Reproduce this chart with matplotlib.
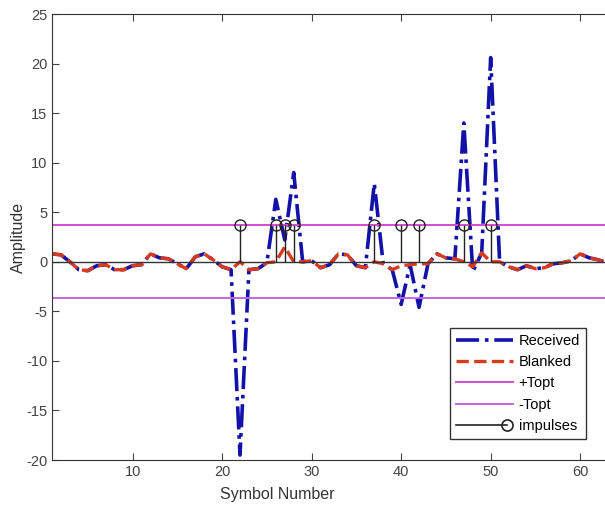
import numpy as np
import matplotlib
matplotlib.use('Agg')
import matplotlib.pyplot as plt
from matplotlib.lines import Line2D
from matplotlib.legend_handler import HandlerBase

plt.rcParams['font.family'] = ['Liberation Sans', 'DejaVu Sans']
plt.rcParams['axes.unicode_minus'] = False

# symbol index 1..63
symbols = list(range(1, 64))
received = [0.8, 0.7, 0.0, -0.8, -0.9, -0.4, -0.3, -0.8, -0.8, -0.4,
            -0.3, 0.8, 0.4, 0.3, -0.2, -0.7, 0.5, 0.8, 0.2, -0.5,
            -0.8, -19.5, -0.8, -0.7, -0.1, 6.3, 2.2, 9.0, 0.0, 0.1,
            -0.6, -0.3, 0.8, 0.7, -0.4, -0.6, 7.9, -0.2, -0.8, -4.3,
            -0.3, -4.6, -0.2, 0.8, 0.4, 0.3, 14.0, -1.0, 0.9, 20.6,
            0.0, -0.5, -0.8, -0.4, -0.7, -0.6, -0.2, -0.1, 0.1, 0.8,
            0.4, 0.2, -0.1]
blanked = [0.8, 0.7, 0.0, -0.8, -0.9, -0.4, -0.3, -0.8, -0.8, -0.4,
           -0.3, 0.8, 0.4, 0.3, -0.2, -0.7, 0.5, 0.8, 0.2, -0.5,
           -0.8, 0.0, -0.8, -0.7, -0.1, 0.0, 1.5, 0.0, 0.0, 0.1,
           -0.6, -0.3, 0.8, 0.7, -0.4, -0.6, 0.0, -0.2, -0.8, -0.4,
           -0.3, -0.2, -0.2, 0.8, 0.4, 0.3, 0.0, -0.5, 0.9, 0.0,
           0.0, -0.5, -0.8, -0.4, -0.7, -0.6, -0.2, -0.1, 0.1, 0.8,
           0.4, 0.2, -0.1]
topt = 3.7
impulse_pos = [22, 26, 27, 28, 37, 40, 42, 47, 50]
impulse_val = [topt] * len(impulse_pos)


class StemHandler(HandlerBase):
    # line with an open circle at the right end, like matlab's stem legend
    def create_artists(self, legend, orig_handle, xdescent, ydescent,
                       width, height, fontsize, trans):
        y = height / 2 - ydescent
        x1 = width - xdescent
        line = Line2D([-xdescent, x1 - 4], [y, y], color='#222222', lw=1.2)
        mark = Line2D([x1 - 4], [y], marker='o', markersize=8,
                      markerfacecolor='none', markeredgecolor='#222222',
                      markeredgewidth=1.2, linestyle='none')
        line.set_transform(trans)
        mark.set_transform(trans)
        return [line, mark]


fig = plt.figure(figsize=(6.05, 5.16), dpi=100)
ax = fig.add_axes([52 / 605, 56 / 516, 564 / 605, 446 / 516])

h1, = ax.plot(symbols, received, '-.', color='#1212a8', lw=2.6, label='Received')
h2, = ax.plot(symbols, blanked, '--', color='#d93a1c', lw=2.4, label='Blanked')
h3 = ax.axhline(topt, color='#d04ed0', lw=1.4, label='+Topt')
h4 = ax.axhline(-topt, color='#c266e6', lw=1.4, label='-Topt')
ax.axhline(0, color='#333333', lw=1.0)
ml, sl, bl = ax.stem(impulse_pos, impulse_val, linefmt='-', markerfmt='o',
                     basefmt=' ')
plt.setp(sl, color='#222222', lw=1.0)
plt.setp(ml, markerfacecolor='none', markeredgecolor='#222222',
         markersize=8, markeredgewidth=1.0)

h5 = Line2D([0], [0], color='#222222')

ax.set_xlim(1, 64)
ax.set_ylim(-20, 25)
ax.set_xticks([10, 20, 30, 40, 50, 60])
ax.set_yticks(range(-20, 30, 5))
ax.tick_params(direction='in', top=True, right=True, labelsize=10.5,
               colors='#444444', length=5)
for s in ax.spines.values():
    s.set_color('#333333')
ax.set_xlabel('Symbol Number', fontsize=11.5, color='#333333')
ax.set_ylabel('Amplitude', fontsize=11.5, color='#333333')
ax.xaxis.set_label_coords(0.4, -0.06)
ax.yaxis.set_label_coords(-0.047, 0.5)

leg = ax.legend([h1, h2, h3, h4, h5],
                ['Received', 'Blanked', '+Topt', '-Topt', 'impulses'],
                handler_map={h5: StemHandler()},
                loc='upper left', bbox_to_anchor=(450 / 605, 1 - 328 / 516),
                bbox_transform=fig.transFigure, borderaxespad=0,
                fontsize=10.5, handlelength=3.9, fancybox=False,
                edgecolor='#333333', framealpha=1, borderpad=0.4,
                labelspacing=0.5, handletextpad=0.4)
leg.get_frame().set_linewidth(1.0)

fig.savefig('out.png', dpi=100)
